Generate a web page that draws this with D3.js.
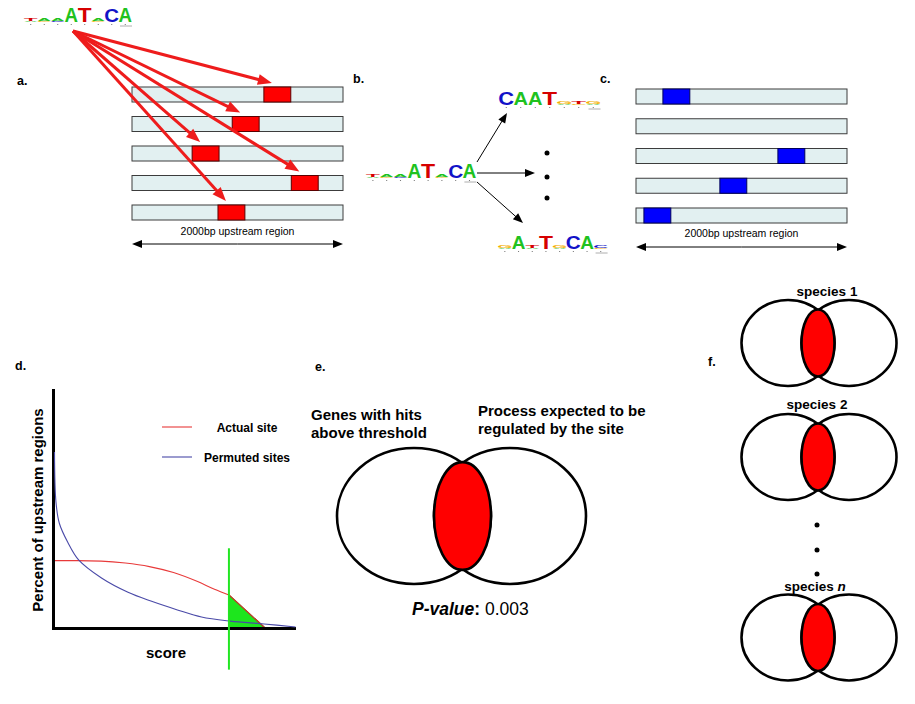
<!DOCTYPE html>
<html lang="en">
<head>
<meta charset="UTF-8">
<title>Motif scoring overview</title>
<script src="https://d3js.org/d3.v7.min.js"></script>
<style>
  body { margin: 0; background: #fff; }
  text { font-family: "Liberation Sans", Arial, sans-serif; }
</style>
</head>
<body>
<script>
  // ---- data ----
  var regionLength = 2000;                       // bp upstream
  var siteLength = 255;                          // bp
  var sitesA = [1250, 950, 570, 1510, 815];      // hits of the real motif
  var sitesC = [255, null, 1345, 795, 75];       // hits of a permuted motif

  // sequence logos: columns, bottom -> top, [base, bits]
  var logoMotif = [
    [["A", 0.2], ["T", 0.4]],
    [["G", 0.2], ["A", 0.4]],
    [["C", 0.2], ["A", 0.4]],
    [["A", 1.95]],
    [["T", 1.95]],
    [["G", 0.2], ["A", 0.4]],
    [["C", 1.85]],
    [["A", 1.9]]
  ];
  var logoPermTop = [
    [["C", 1.75]],
    [["A", 1.75]],
    [["A", 1.75]],
    [["T", 1.75]],
    [["A", 0.2], ["G", 0.35]],
    [["G", 0.2], ["T", 0.4]],
    [["A", 0.2], ["G", 0.35]]
  ];
  var logoPermBottom = [
    [["A", 0.2], ["G", 0.35]],
    [["A", 1.8]],
    [["A", 0.2], ["T", 0.35]],
    [["T", 1.8]],
    [["A", 0.2], ["G", 0.35]],
    [["C", 1.8]],
    [["A", 1.8]],
    [["G", 0.2], ["C", 0.35]]
  ];

  // panel d curves (score vs percent of upstream regions)
  var scoreActual = [0, 10, 20, 30, 40, 50, 60, 67, 73, 88];
  var pctActual   = [28.3, 28.3, 28.1, 27.3, 25.8, 23.3, 19.5, 16.3, 13.9, 0];
  var scorePermuted = [0, 0.6, 2, 5.5, 10, 19.5, 30.5, 40, 51, 61, 73, 87, 100];
  var pctPermuted   = [74, 53, 44, 36, 28.6, 21, 15, 11.3, 7.6, 4.6, 2.9, 1.7, 0.4];
  var threshold = 73;
  var legendLabels = ["Actual site", "Permuted sites"];

  var speciesNames = ["species 1", "species 2", "species "];

  // ---- svg ----
  var svg = d3.select("body").append("svg")
              .attr("width", 915)
              .attr("height", 704);

  var baseColor = { A: "#1fc21f", C: "#1212c8", G: "#f5b000", T: "#d60000" };
  var inkW = { A: 0.70, C: 0.64, G: 0.68, T: 0.58 };
  var bitScale = d3.scaleLinear().domain([0, 2]).range([0, 15]);

  function drawLogo(cols, x0, colW, baseY) {
    var g = svg.append("g");
    cols.forEach(function(col, i) {
      var cx = x0 + colW * (i + 0.5);
      var y = baseY;
      col.forEach(function(d) {
        var h = bitScale(d[1]);
        g.append("text")
          .attr("transform", "translate(" + cx + "," + y + ") scale(" +
                (colW * 0.97 / (inkW[d[0]] * 100)) + "," + (h / 72) + ")")
          .attr("text-anchor", "middle")
          .style("font-size", "100px")
          .style("font-weight", "bold")
          .style("fill", baseColor[d[0]])
          .text(d[0]);
        y -= h;
      });
      g.append("circle").attr("cx", cx).attr("cy", baseY + 2.5).attr("r", 0.6).attr("fill", "#666");
    });
    g.append("line")
      .attr("x1", x0 + colW * cols.length - 12).attr("x2", x0 + colW * cols.length)
      .attr("y1", baseY + 4).attr("y2", baseY + 4)
      .attr("stroke", "#999").attr("stroke-width", 0.8);
  }

  function arrow(x1, y1, x2, y2, color, w, headL, headW) {
    var a = Math.atan2(y2 - y1, x2 - x1);
    var bx = x2 - headL * Math.cos(a), by = y2 - headL * Math.sin(a);
    svg.append("line")
      .attr("x1", x1).attr("y1", y1).attr("x2", bx + Math.cos(a)).attr("y2", by + Math.sin(a))
      .attr("stroke", color).attr("stroke-width", w);
    var px = -Math.sin(a) * headW / 2, py = Math.cos(a) * headW / 2;
    svg.append("path")
      .attr("d", "M" + x2 + "," + y2 + "L" + (bx + px) + "," + (by + py) + "L" + (bx - px) + "," + (by - py) + "Z")
      .attr("fill", color);
  }

  function panelLabel(txt, x, y) {
    svg.append("text").attr("x", x).attr("y", y)
      .style("font-size", "12.5px").style("font-weight", "bold").text(txt);
  }

  function regions(sites, xs, ys, boxFill, boxStroke) {
    var g = svg.append("g");
    g.selectAll("rect.bar").data(sites).enter().append("rect")
      .attr("class", "bar")
      .attr("x", xs(0)).attr("y", function(d, i) { return ys(i); })
      .attr("width", xs(regionLength) - xs(0)).attr("height", 15)
      .attr("fill", "#e2f0f1").attr("stroke", "#3c3c3c").attr("stroke-width", 1);
    g.selectAll("rect.site").data(sites.map(function(d, i) { return { pos: d, row: i }; })
                                       .filter(function(d) { return d.pos !== null; }))
      .enter().append("rect")
      .attr("class", "site")
      .attr("x", function(d) { return xs(d.pos); })
      .attr("y", function(d) { return ys(d.row); })
      .attr("width", xs(siteLength) - xs(0)).attr("height", 15)
      .attr("fill", boxFill).attr("stroke", boxStroke).attr("stroke-width", 1);
  }

  function spanArrow(xs, y, ty) {
    arrow(xs(regionLength / 2), y, xs(0), y, "#000", 1, 10, 8);
    arrow(xs(regionLength / 2), y, xs(regionLength), y, "#000", 1, 10, 8);
    svg.append("text").attr("x", xs(regionLength / 2)).attr("y", ty)
      .attr("text-anchor", "middle").style("font-size", "10.5px").text("2000bp upstream region");
  }

  // ---- panel a ----
  var xA = d3.scaleLinear().domain([0, regionLength]).range([132, 343]);
  var yA = d3.scalePoint().domain(d3.range(sitesA.length)).range([87, 205]);
  drawLogo(logoMotif, 24, 13.5, 22);
  panelLabel("a.", 17, 85);
  regions(sitesA, xA, yA, "#ff0000", "#5a0000");
  sitesA.forEach(function(s, i) {
    arrow(73, 31, xA(s) + 8, yA(i) - 4, "#ee1c1c", 3, 14, 11);
  });
  spanArrow(xA, 244, 235);

  // ---- panel b ----
  panelLabel("b.", 353, 83);
  drawLogo(logoMotif, 366, 13.8, 178);
  drawLogo(logoPermTop, 499, 14.5, 105);
  drawLogo(logoPermBottom, 498, 13.7, 249);
  arrow(477, 162, 507, 113, "#000", 1, 10, 8);
  arrow(477, 173, 535, 173, "#000", 1, 10, 8);
  arrow(477, 182, 523, 223, "#000", 1, 10, 8);
  svg.selectAll("circle.bdot").data([153, 177, 198]).enter().append("circle")
    .attr("class", "bdot").attr("cx", 547).attr("cy", function(d) { return d; })
    .attr("r", 2.5).attr("fill", "#000");

  // ---- panel c ----
  panelLabel("c.", 600, 83);
  var xC = d3.scaleLinear().domain([0, regionLength]).range([636, 847]);
  var yC = d3.scalePoint().domain(d3.range(sitesC.length)).range([89, 208]);
  regions(sitesC, xC, yC, "#0000ff", "#00005a");
  spanArrow(xC, 247, 237);

  // ---- panel d ----
  panelLabel("d.", 15, 370);
  var xD = d3.scaleLinear().domain([0, 100]).range([53, 294]);
  var yD = d3.scaleLinear().domain([0, 100]).range([628, 390]);
  var actual = scoreActual.map(function(s, i) { return [s, pctActual[i]]; });
  var permuted = scorePermuted.map(function(s, i) { return [s, pctPermuted[i]]; });
  var actualHead = actual.filter(function(d) { return d[0] <= threshold; });
  var actualTail = actual.filter(function(d) { return d[0] >= threshold; });

  svg.append("path").datum(actualTail)
    .attr("d", d3.area().x(function(d) { return xD(d[0]); })
                 .y0(yD(0)).y1(function(d) { return yD(d[1]); }))
    .attr("fill", "#1de61d").attr("stroke", "#8a4a1a").attr("stroke-width", 1.2);

  var smooth = d3.line().x(function(d) { return xD(d[0]); })
                        .y(function(d) { return yD(d[1]); })
                        .curve(d3.curveMonotoneX);
  var straight = d3.line().x(function(d) { return xD(d[0]); })
                          .y(function(d) { return yD(d[1]); });
  svg.append("path").datum(actualHead).attr("d", smooth)
    .attr("fill", "none").attr("stroke", "#e83a3a").attr("stroke-width", 1.1);
  svg.append("path").datum(actualTail).attr("d", straight)
    .attr("fill", "none").attr("stroke", "#c0402a").attr("stroke-width", 1.1);

  var axX = svg.append("g").attr("transform", "translate(0," + yD(0) + ")")
    .call(d3.axisBottom(xD).ticks(0).tickSizeOuter(0));
  var axY = svg.append("g").attr("transform", "translate(" + xD(0) + ",0)")
    .call(d3.axisLeft(yD).ticks(0).tickSizeOuter(0));
  [axX, axY].forEach(function(ax) {
    ax.selectAll("text").remove();
    ax.select(".domain").attr("stroke", "#000").attr("stroke-width", 3).attr("stroke-linecap", "square");
  });

  svg.append("path").datum(permuted)
    .attr("transform", "translate(1.5,0)")
    .attr("d", d3.line().x(function(d) { return xD(d[0]); })
                        .y(function(d) { return yD(d[1]); })
                        .curve(d3.curveCatmullRom.alpha(0.5)))
    .attr("fill", "none").attr("stroke", "#4a4aa8").attr("stroke-width", 1.1);

  svg.append("line")
    .attr("x1", xD(threshold)).attr("x2", xD(threshold))
    .attr("y1", yD(33.5)).attr("y2", yD(-17.5))
    .attr("stroke", "#22e622").attr("stroke-width", 2);

  svg.append("text").attr("transform", "translate(43," + 510 + ") rotate(-90)")
    .attr("text-anchor", "middle").style("font-size", "15px").style("font-weight", "bold")
    .text("Percent of upstream regions");
  svg.append("text").attr("x", 166).attr("y", 658)
    .attr("text-anchor", "middle").style("font-size", "15px").style("font-weight", "bold")
    .text("score");

  var legend = svg.append("g");
  var legColors = ["#e83a3a", "#4a4aa8"];
  legendLabels.forEach(function(lab, i) {
    var ly = 427 + i * 30;
    legend.append("line").attr("x1", 162).attr("x2", 192).attr("y1", ly).attr("y2", ly)
      .attr("stroke", legColors[i]).attr("stroke-width", 1.1);
    legend.append("text").attr("x", 247).attr("y", ly + 4.5)
      .attr("text-anchor", "middle").style("font-size", "12px").style("font-weight", "bold")
      .text(lab);
  });

  // ---- venn helper: two sets plus a red overlap oval ----
  function venn(lcx, rcx, cy, lrx, rrx, ry, sw) {
    [[lcx, lrx], [rcx, rrx]].forEach(function(c) {
      svg.append("ellipse").attr("cx", c[0]).attr("cy", cy).attr("rx", c[1]).attr("ry", ry)
        .attr("fill", "none").attr("stroke", "#000").attr("stroke-width", sw);
    });
    var left = rcx - rrx, right = lcx + lrx;          // overlap extent
    var xm = (left + right) / 2;
    var dy = ry * Math.sqrt(1 - Math.pow((xm - lcx) / lrx, 2));
    svg.append("ellipse").attr("cx", xm).attr("cy", cy)
      .attr("rx", (right - left) / 2).attr("ry", dy * 1.02)
      .attr("fill", "#ff0000").attr("stroke", "#000").attr("stroke-width", sw);
  }

  // ---- panel e ----
  panelLabel("e.", 315, 371);
  venn(414, 510, 516, 77, 76, 68, 2.6);
  var eText = svg.append("g").style("font-size", "15px").style("font-weight", "bold");
  eText.append("text").attr("x", 311).attr("y", 420).text("Genes with hits");
  eText.append("text").attr("x", 311).attr("y", 438).text("above threshold");
  eText.append("text").attr("x", 478).attr("y", 416).text("Process expected to be");
  eText.append("text").attr("x", 478).attr("y", 434).text("regulated by the site");
  var pv = svg.append("text").attr("x", 412).attr("y", 615).style("font-size", "17.5px");
  pv.append("tspan").style("font-weight", "bold").style("font-style", "italic").text("P-value");
  pv.append("tspan").style("font-weight", "bold").text(": ");
  pv.append("tspan").text("0.003");

  // ---- panel f ----
  panelLabel("f.", 708, 366);
  var fCy = [343, 457, 637.5];
  var fLabelX = [827, 817, 815];
  var fLabelY = [296, 409, 591];
  speciesNames.forEach(function(name, i) {
    venn(788, 849, fCy[i], 46.5, 47.5, 43, 2.6);
    var t = svg.append("text").attr("x", fLabelX[i]).attr("y", fLabelY[i])
      .attr("text-anchor", "middle").style("font-size", "13.5px").style("font-weight", "bold");
    t.append("tspan").text(name);
    if (i === speciesNames.length - 1) {
      t.append("tspan").style("font-style", "italic").text("n");
    }
  });
  svg.selectAll("circle.fdot").data([525, 550, 574]).enter().append("circle")
    .attr("class", "fdot").attr("cx", 817).attr("cy", function(d) { return d; })
    .attr("r", 2.5).attr("fill", "#000");
</script>
</body>
</html>
